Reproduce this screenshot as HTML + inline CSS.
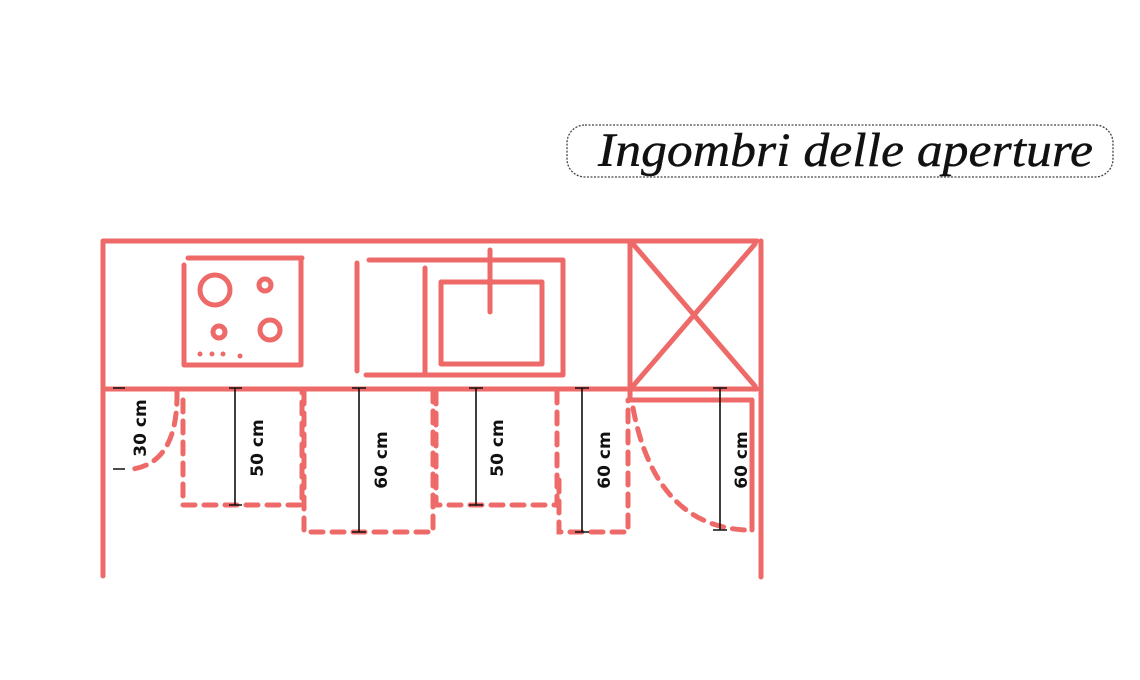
<!DOCTYPE html>
<html><head><meta charset="utf-8"><style>
html,body{margin:0;padding:0;background:#fff;}
svg{display:block;}
</style></head><body>
<svg width="1140" height="680" viewBox="0 0 1140 680" xmlns="http://www.w3.org/2000/svg">
<rect width="1140" height="680" fill="#fff"/>
<!-- title -->
<rect x="567" y="125" width="546" height="52" rx="18" fill="none" stroke="#444" stroke-width="1.3" stroke-dasharray="2 1.5"/>
<text x="598" y="166" font-family="Liberation Serif, serif" font-style="italic" font-size="48" fill="#111" stroke="#111" stroke-width="0.4" textLength="495" lengthAdjust="spacingAndGlyphs">Ingombri delle aperture</text>

<g fill="none" stroke="#ee6a68" stroke-width="5" stroke-linecap="round" stroke-linejoin="round">
<!-- walls -->
<path d="M103 576 V241 H757"/>
<path d="M761 241 V577"/>
<path d="M103 389 H630"/>
<!-- cooktop -->
<path d="M188 258 H302 M184 265 V365 H301 V258"/>
<circle cx="215" cy="290" r="15"/>
<circle cx="265" cy="285" r="6"/>
<circle cx="219" cy="332" r="6"/>
<circle cx="270" cy="330" r="10"/>
<!-- sink -->
<path d="M357 263 V371"/>
<path d="M369 260 H563 V375 H366"/>
<path d="M425 268 V375"/>
<path d="M441 282 H542 V364 H441 Z"/>
<path d="M490 250 V312"/>
<!-- tall unit -->
<path d="M630 241 V400 M630 389 H757 M630 400 H752 V530"/>
<path d="M633 244 L755 386 M755 244 L633 386"/>
</g>
<g fill="#ee6a68"><circle cx="200" cy="354" r="2.5"/><circle cx="212" cy="354" r="2.5"/><circle cx="223" cy="354" r="2.5"/><circle cx="240" cy="356" r="2.5"/></g>

<!-- dashed clearances -->
<g fill="none" stroke="#ee6a68" stroke-width="5" stroke-dasharray="12 9" stroke-linecap="round">
<path d="M177 392 Q178 462 133 469"/>
<path d="M183 400 V505 H302 V392"/>
<path d="M304 392 V532 H433 V392"/>
<path d="M436 392 V505 H557 V392"/>
<path d="M559 480 V532 H628 V400"/>
<path d="M633 408 Q655 525 745 530"/>
</g>

<!-- dimension lines -->
<g stroke="#111" stroke-width="1.6">
<path d="M113 388 H125 M113 469 H125"/>
<path d="M235 388 V505 M229 388 H242 M229 505 H242"/>
<path d="M359 388 V532 M352 388 H366 M352 532 H366"/>
<path d="M476 388 V505 M469 388 H483 M469 505 H483"/>
<path d="M582 388 V532 M575 388 H589 M575 532 H589"/>
<path d="M720 388 V530 M713 388 H727 M713 530 H727"/>
</g>
<g font-family="DejaVu Sans, Liberation Sans, sans-serif" font-size="17" font-weight="bold" fill="#111" text-anchor="middle">
<text transform="translate(146 428) rotate(-90)">30 cm</text>
<text transform="translate(263 448) rotate(-90)">50 cm</text>
<text transform="translate(387 460) rotate(-90)">60 cm</text>
<text transform="translate(503 448) rotate(-90)">50 cm</text>
<text transform="translate(610 460) rotate(-90)">60 cm</text>
<text transform="translate(747 460) rotate(-90)">60 cm</text>
</g>
</svg>
</body></html>
